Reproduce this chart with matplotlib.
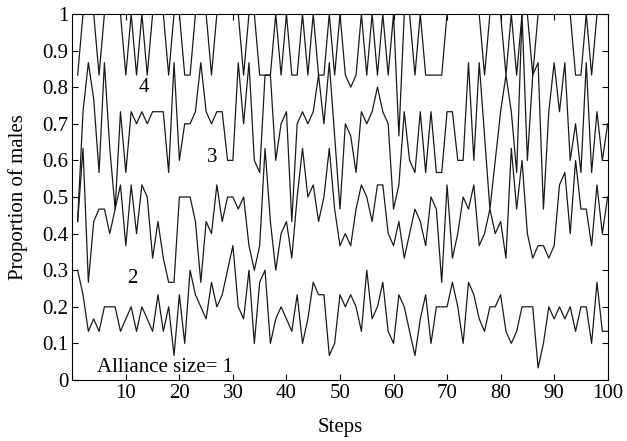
import matplotlib
matplotlib.use("Agg")
import matplotlib.pyplot as plt

# proportion of males per step, one list per alliance size
steps = list(range(1, 101))

size1 = [0.3, 0.233, 0.133, 0.167, 0.133, 0.2, 0.2, 0.2, 0.133, 0.167,
         0.2, 0.133, 0.2, 0.167, 0.133, 0.233, 0.133, 0.2, 0.067, 0.233,
         0.1, 0.3, 0.233, 0.2, 0.167, 0.267, 0.2, 0.233, 0.3, 0.367,
         0.2, 0.167, 0.3, 0.1, 0.267, 0.3, 0.1, 0.167, 0.2, 0.167,
         0.133, 0.233, 0.1, 0.167, 0.267, 0.233, 0.233, 0.067, 0.1, 0.233,
         0.2, 0.233, 0.2, 0.133, 0.3, 0.167, 0.2, 0.267, 0.133, 0.1,
         0.233, 0.2, 0.133, 0.067, 0.167, 0.233, 0.1, 0.2, 0.2, 0.2,
         0.267, 0.2, 0.1, 0.267, 0.233, 0.167, 0.133, 0.2, 0.2, 0.233,
         0.133, 0.1, 0.133, 0.2, 0.2, 0.2, 0.033, 0.1, 0.2, 0.167,
         0.2, 0.167, 0.2, 0.133, 0.2, 0.2, 0.1, 0.267, 0.133, 0.133]

size2 = [0.433, 0.633, 0.267, 0.433, 0.467, 0.467, 0.4, 0.467, 0.533, 0.367,
         0.533, 0.4, 0.533, 0.5, 0.333, 0.433, 0.333, 0.267, 0.267, 0.5,
         0.5, 0.5, 0.433, 0.267, 0.433, 0.4, 0.533, 0.433, 0.5, 0.5,
         0.467, 0.5, 0.367, 0.3, 0.367, 0.633, 0.433, 0.3, 0.4, 0.433,
         0.333, 0.5, 0.633, 0.5, 0.533, 0.433, 0.5, 0.633, 0.467, 0.367,
         0.4, 0.367, 0.467, 0.533, 0.5, 0.433, 0.533, 0.533, 0.4, 0.367,
         0.433, 0.333, 0.4, 0.467, 0.433, 0.367, 0.5, 0.467, 0.267, 0.533,
         0.333, 0.4, 0.5, 0.467, 0.533, 0.367, 0.4, 0.467, 0.4, 0.433,
         0.333, 0.633, 0.467, 0.6, 0.4, 0.333, 0.367, 0.367, 0.333, 0.367,
         0.533, 0.567, 0.4, 0.6, 0.467, 0.467, 0.367, 0.533, 0.4, 0.5]

size3 = [0.433, 0.733, 0.867, 0.767, 0.567, 0.867, 0.633, 0.467, 0.733, 0.567,
         0.733, 0.7, 0.733, 0.7, 0.733, 0.733, 0.733, 0.567, 0.867, 0.6,
         0.7, 0.7, 0.733, 0.867, 0.733, 0.7, 0.733, 0.733, 0.6, 0.6,
         0.867, 0.7, 0.867, 0.6, 0.567, 0.833, 0.833, 0.6, 0.7, 0.733,
         0.433, 0.7, 0.733, 0.7, 0.733, 0.833, 0.7, 0.867, 0.667, 0.467,
         0.7, 0.667, 0.567, 0.733, 0.7, 0.733, 0.8, 0.733, 0.7, 0.467,
         0.533, 0.733, 0.6, 0.567, 0.733, 0.567, 0.733, 0.567, 0.567, 0.733,
         0.733, 0.6, 0.6, 0.867, 0.6, 0.867, 0.667, 0.467, 0.6, 0.733,
         0.833, 0.733, 0.567, 1.0, 0.6, 0.833, 0.867, 0.467, 0.733, 0.867,
         0.733, 0.867, 0.6, 0.7, 0.567, 0.867, 0.567, 0.733, 0.6, 0.7]

size4 = [0.833, 1, 1, 1, 0.833, 1, 1, 1, 1, 0.833,
         1, 0.833, 1, 0.833, 1, 1, 1, 0.833, 1, 1,
         0.833, 0.833, 1, 1, 1, 0.833, 1, 1, 1, 1,
         1, 0.833, 1, 1, 0.833, 0.833, 0.833, 1, 0.833, 1,
         0.833, 0.833, 1, 0.833, 1, 0.833, 0.833, 1, 0.833, 1,
         0.833, 0.8, 0.833, 1, 0.833, 1, 0.833, 1, 0.833, 1,
         0.667, 1, 1, 0.833, 1, 0.833, 0.833, 0.833, 0.833, 1,
         1, 1, 1, 1, 1, 1, 0.833, 1, 1, 1,
         0.833, 1, 0.833, 1, 1, 0.833, 1, 1, 1, 1,
         1, 1, 1, 0.833, 0.833, 1, 0.833, 1, 1, 1]

xtick_vals = list(range(10, 101, 10))
ytick_vals = [i / 10 for i in range(11)]
ytick_labels = ["0", "0.1", "0.2", "0.3", "0.4", "0.5", "0.6", "0.7", "0.8", "0.9", "1"]

plt.rcParams['font.family'] = ['Liberation Serif', 'DejaVu Serif']
fs = 15

fig = plt.figure(figsize=(6.27, 4.41), dpi=100)
ax = fig.add_axes([0.1153, 0.1383, 0.8539, 0.83])

for series in (size1, size2, size3, size4):
    ax.plot(steps, series, color='#1a1a1a', lw=0.9)

ax.set_xlim(0, 100)
ax.set_ylim(0, 1)
ax.set_xticks(xtick_vals)
ax.set_yticks(ytick_vals)
ax.set_yticklabels(ytick_labels)
ax.tick_params(direction='in', top=True, right=True, labelsize=fs, length=4, pad=3)

# labels for each curve
ax.text(13.4, 0.80, "4", fontsize=fs, ha='center', va='center')
ax.text(26.1, 0.607, "3", fontsize=fs, ha='center', va='center')
ax.text(11.2, 0.276, "2", fontsize=fs, ha='center', va='center')
ax.text(4.6, 0.033, "Alliance size= 1", fontsize=fs, ha='left', va='center')

ax.set_xlabel("Steps", fontsize=fs, labelpad=11)
ax.set_ylabel("Proportion of males", fontsize=fs, labelpad=10)

fig.savefig("out.png", dpi=100)
